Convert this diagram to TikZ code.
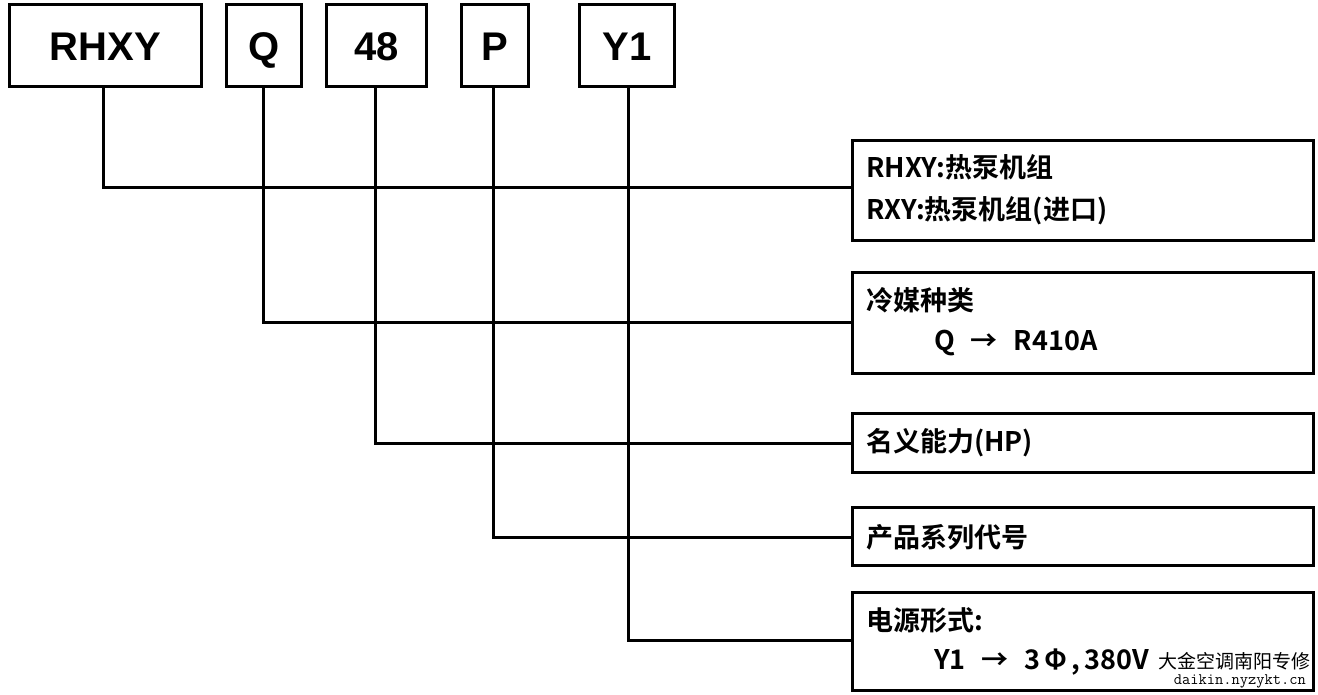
\documentclass[tikz,border=0pt]{standalone}
\usepackage{fontspec}
\setmainfont{Liberation Sans}
\newfontfamily\cjk{Noto Sans CJK SC}[BoldFont={* Bold}]
\newfontfamily\cjkm{Noto Sans CJK SC}
\begin{document}
\begin{tikzpicture}[x=1pt,y=-1pt,
  codebox/.style={draw,line width=3pt,font=\bfseries\fontsize{40}{40}\selectfont,inner sep=0pt,anchor=north west,text height=29pt,text depth=0pt},
  desc/.style={anchor=west,font=\cjk\bfseries\fontsize{27}{30}\selectfont,inner sep=0pt},
  lbox/.style={draw,line width=3pt},
  conn/.style={line width=3pt}]
\useasboundingbox (0,0) rectangle (1318,694);
\node[codebox,minimum width=192pt,minimum height=82pt] (b1) at (8,3) {RHXY};
\node[codebox,minimum width=75pt,minimum height=82pt] (b2) at (225,3) {Q};
\node[codebox,minimum width=100pt,minimum height=82pt] (b3) at (325,3) {48};
\node[codebox,minimum width=67pt,minimum height=82pt] (b4) at (460,3) {P};
\node[codebox,minimum width=95pt,minimum height=82pt] (b5) at (578,3) {Y1};
\draw[lbox] (852,140) rectangle (1313,240);
\draw[lbox] (852,272) rectangle (1313,373);
\draw[lbox] (852,413) rectangle (1313,472);
\draw[lbox] (852,507) rectangle (1313,565);
\draw[lbox] (852,592) rectangle (1313,690);
\coordinate (r1) at (852,187);
\coordinate (r2) at (852,322);
\coordinate (r3) at (852,443);
\coordinate (r4) at (852,537);
\coordinate (r5) at (852,640);
\draw[conn] (b1.south -| 103,0) |- (r1);
\draw[conn] (b2.south -| 263,0) |- (r2);
\draw[conn] (b3.south -| 375,0) |- (r3);
\draw[conn] (b4.south -| 493,0) |- (r4);
\draw[conn] (b5.south -| 628,0) |- (r5);
\node[desc] (t1) at (866,167) {RHXY:热泵机组};
\node[desc] (t2) at (866,211) {RXY:热泵机组(进口)};
\node[desc] (t3) at (866,300) {冷媒种类};
\node[desc] (t4) at (934,343) {Q\hspace{16pt}→\hspace{16pt}R410A};
\node[desc] (t5) at (866,443) {名义能力(HP)};
\node[desc] (t6) at (866,537) {产品系列代号};
\node[desc] (t7) at (866,620) {电源形式:};
\node[desc] (t8) at (934,662) {Y1\hspace{16pt}→\hspace{16pt}3\hspace{4pt}Φ\hspace{4pt},\hspace{4pt}380V};
\node[anchor=west,fill=white,inner sep=1pt,font=\cjkm\fontsize{19}{19}\selectfont] (w1) at (1157,661) {大金空调南阳专修};
\node[anchor=east,inner sep=0pt,font=\ttfamily\fontsize{16}{16}\selectfont] (w2) at (1306,681) {daikin.nyzykt.cn};
\end{tikzpicture}
\end{document}
